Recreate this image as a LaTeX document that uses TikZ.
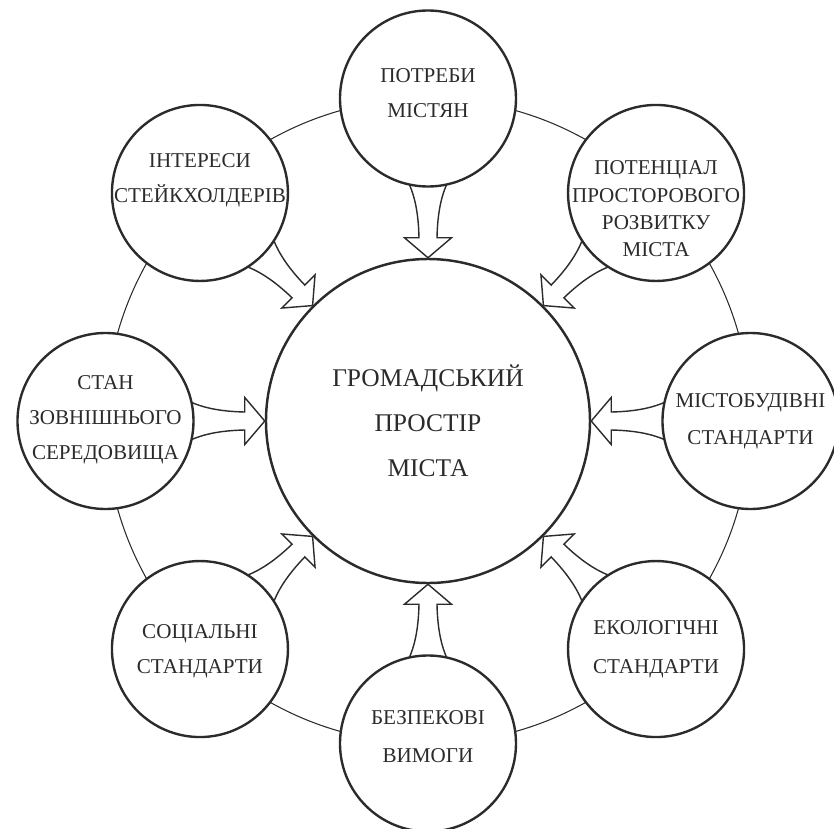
\documentclass[tikz,border=0pt]{standalone}
\usepackage{fontspec}
\setmainfont{Liberation Serif}
\definecolor{Ink}{HTML}{2B2B2B}

\begin{document}
\begin{tikzpicture}[
    hub/.style={
      circle,
      draw=Ink,
      line width=1.4pt,
      minimum size=6.48cm,
      inner sep=0pt,
      align=center,
      text=Ink,
      font=\fontsize{14.5}{25.5}\selectfont
    },
    factor/.style={
      circle,
      draw=Ink,
      line width=1.35pt,
      fill=white,
      minimum size=3.52cm,
      inner sep=0pt
    },
    caption/.style={align=center, text=Ink, inner sep=0pt},
    ring/.style={draw=Ink, line width=0.6pt},
    flow/.style={draw=Ink, line width=0.8pt, line join=miter},
    inarrow/.pic={
      \draw[flow] (0,0) -- (0.4,0.47) -- (0.4,0.18)
        .. controls (0.9,0.19) and (1.3,0.27) .. (1.6,0.44);
      \draw[flow] (0,0) -- (0.4,-0.47) -- (0.4,-0.18)
        .. controls (0.9,-0.19) and (1.3,-0.27) .. (1.6,-0.44);
    }
  ]
  \useasboundingbox (-8.56,-8.14) rectangle (8.12,8.42);

  \node[hub] (space) at (0,0) {ГРОМАДСЬКИЙ\\ПРОСТІР\\МІСТА};
  \draw[ring] (space.center) circle (6.45);

  \foreach \ang in {0,45,...,315}
    \pic[rotate=\ang] at (space.\ang) {inarrow};

  \foreach \ang/\dy/\lh/\txt [count=\i] in {
      90/0.1/20/{ПОТРЕБИ\\МІСТЯН},
      45/-0.32/15.5/{ПОТЕНЦІАЛ\\ПРОСТОРОВОГО\\РОЗВИТКУ\\МІСТА},
      0/0/21/{МІСТОБУДІВНІ\\СТАНДАРТИ},
      315/0/22/{ЕКОЛОГІЧНІ\\СТАНДАРТИ},
      270/0.14/22/{БЕЗПЕКОВІ\\ВИМОГИ},
      225/-0.04/20/{СОЦІАЛЬНІ\\СТАНДАРТИ},
      180/0.02/20/{СТАН\\ЗОВНІШНЬОГО\\СЕРЕДОВИЩА},
      135/0.26/20/{ІНТЕРЕСИ\\СТЕЙКХОЛДЕРІВ}}
  {
    \node[factor] (f\i) at (\ang:6.45) {};
    \node[caption, font=\fontsize{12}{\lh}\selectfont] (t\i)
      at ([yshift=\dy cm]f\i.center) {\txt};
  }
\end{tikzpicture}
\end{document}
